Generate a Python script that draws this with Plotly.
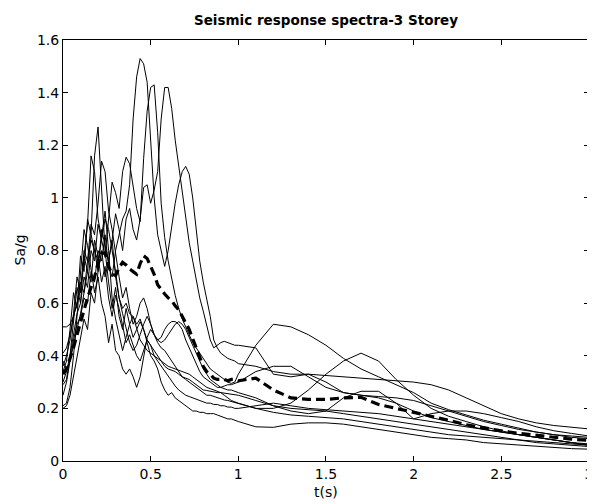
import plotly.graph_objects as go

# Period grid (s): 0.00..1.00 step 0.02, then 1.1..3.0 step 0.1
period_early = [round(i * 0.02, 2) for i in range(51)]
period_late = [round(1.0 + 0.1 * i, 1) for i in range(1, 21)]
period = period_early + period_late

rec1 = [0.25, 0.30, 0.38, 0.46, 0.52, 0.55, 0.62, 0.60, 0.72, 0.68, 0.80, 0.76, 0.86, 0.74, 0.70, 0.80, 0.86, 0.92, 0.95, 1.05,
        1.30, 1.46, 1.53, 1.51, 1.44, 1.24, 1.00, 0.86, 0.80, 0.74, 0.80, 0.90, 0.98, 1.05, 1.10, 1.12, 1.09, 1.00, 0.88, 0.76,
        0.68, 0.62, 0.55, 0.46, 0.43, 0.41, 0.40, 0.39, 0.385, 0.38, 0.37,
        0.36, 0.34, 0.33, 0.33, 0.325, 0.32, 0.315, 0.31, 0.305, 0.30, 0.29, 0.27, 0.24, 0.21, 0.18, 0.16, 0.145, 0.135, 0.128, 0.122]
rec2 = [0.30, 0.34, 0.40, 0.48, 0.56, 0.60, 0.70, 0.66, 0.80, 0.76, 0.90, 0.84, 0.78, 0.92, 1.06, 1.02, 0.96, 1.10, 1.155, 1.13,
        1.05, 0.96, 0.91, 1.15, 1.33, 1.42, 1.43, 1.25, 0.98, 0.85, 0.76, 0.69, 0.63, 0.58, 0.54, 0.51, 0.48, 0.45, 0.43, 0.41,
        0.39, 0.37, 0.35, 0.34, 0.33, 0.32, 0.31, 0.30, 0.295, 0.30, 0.33,
        0.44, 0.52, 0.51, 0.48, 0.44, 0.39, 0.35, 0.32, 0.29, 0.26, 0.22, 0.195, 0.175, 0.155, 0.14, 0.125, 0.11, 0.10, 0.09, 0.085]
rec3 = [0.41, 0.43, 0.48, 0.55, 0.60, 0.65, 0.78, 0.72, 0.86, 0.80, 0.72, 0.88, 0.82, 0.76, 0.84, 0.94, 0.88, 0.80, 0.92, 0.96,
        0.88, 0.84, 0.92, 1.04, 1.05, 0.98, 1.03, 1.10, 1.30, 1.42, 1.42, 1.34, 1.22, 1.12, 1.02, 0.92, 0.83, 0.76, 0.69, 0.62,
        0.57, 0.52, 0.46, 0.43, 0.44, 0.45, 0.455, 0.45, 0.445, 0.44, 0.44,
        0.43, 0.33, 0.32, 0.33, 0.30, 0.26, 0.25, 0.24, 0.22, 0.19, 0.165, 0.15, 0.135, 0.12, 0.11, 0.10, 0.09, 0.08, 0.07, 0.065]
rec4 = [0.34, 0.38, 0.50, 0.64, 0.58, 0.78, 0.72, 0.92, 0.86, 1.16, 1.27, 1.05, 0.80, 0.68, 0.58, 0.66, 0.55, 0.50, 0.58, 0.52,
        0.47, 0.50, 0.53, 0.50, 0.46, 0.44, 0.42, 0.40, 0.38, 0.36, 0.35, 0.345, 0.34, 0.33, 0.32, 0.315, 0.31, 0.30, 0.29, 0.28,
        0.27, 0.268, 0.265, 0.263, 0.26, 0.26, 0.258, 0.256, 0.254, 0.252, 0.25,
        0.23, 0.21, 0.20, 0.195, 0.19, 0.18, 0.17, 0.16, 0.15, 0.14, 0.13, 0.12, 0.11, 0.10, 0.09, 0.08, 0.07, 0.065, 0.06, 0.055]
rec5 = [0.29, 0.31, 0.40, 0.52, 0.66, 0.60, 0.78, 0.90, 1.16, 1.10, 0.92, 0.85, 0.95, 0.80, 0.62, 0.54, 0.48, 0.42, 0.47, 0.52,
        0.55, 0.52, 0.54, 0.50, 0.45, 0.40, 0.38, 0.35, 0.30, 0.27, 0.25, 0.26, 0.24, 0.23, 0.22, 0.21, 0.20, 0.19, 0.19, 0.185,
        0.185, 0.18, 0.18, 0.18, 0.175, 0.17, 0.165, 0.16, 0.16, 0.155, 0.15,
        0.13, 0.128, 0.14, 0.145, 0.145, 0.14, 0.13, 0.12, 0.11, 0.10, 0.09, 0.085, 0.08, 0.07, 0.065, 0.06, 0.055, 0.05, 0.047, 0.045]
rec6 = [0.36, 0.40, 0.46, 0.56, 0.70, 0.64, 0.80, 0.76, 0.90, 0.86, 0.98, 1.14, 1.10, 0.95, 0.88, 0.78, 0.70, 0.62, 0.66, 0.58,
        0.52, 0.55, 0.60, 0.62, 0.58, 0.52, 0.48, 0.46, 0.47, 0.50, 0.52, 0.53, 0.53, 0.52, 0.50, 0.46, 0.43, 0.40, 0.37, 0.34,
        0.32, 0.31, 0.30, 0.29, 0.28, 0.28, 0.275, 0.27, 0.27, 0.265, 0.26,
        0.24, 0.21, 0.19, 0.18, 0.19, 0.24, 0.265, 0.265, 0.22, 0.16, 0.18, 0.19, 0.19, 0.18, 0.165, 0.15, 0.13, 0.115, 0.105, 0.095]
rec7 = [0.21, 0.22, 0.28, 0.40, 0.55, 0.70, 0.88, 0.82, 0.72, 0.64, 0.70, 0.60, 0.55, 0.45, 0.52, 0.42, 0.40, 0.35, 0.33, 0.35,
        0.32, 0.28, 0.32, 0.40, 0.47, 0.50, 0.48, 0.45, 0.43, 0.42, 0.40, 0.38, 0.36, 0.34, 0.32, 0.31, 0.30, 0.29, 0.28, 0.27,
        0.26, 0.25, 0.25, 0.245, 0.24, 0.235, 0.232, 0.23, 0.226, 0.223, 0.22,
        0.20, 0.185, 0.175, 0.17, 0.165, 0.16, 0.15, 0.14, 0.13, 0.12, 0.11, 0.10, 0.095, 0.09, 0.085, 0.08, 0.075, 0.07, 0.065, 0.06]
rec8 = [0.51, 0.51, 0.52, 0.55, 0.60, 0.68, 0.64, 0.76, 0.84, 0.80, 0.76, 0.84, 0.92, 0.88, 0.80, 0.72, 0.62, 0.58, 0.60, 0.56,
        0.55, 0.50, 0.46, 0.44, 0.42, 0.41, 0.40, 0.39, 0.38, 0.37, 0.36, 0.355, 0.35, 0.345, 0.34, 0.335, 0.33, 0.32, 0.31, 0.30,
        0.29, 0.28, 0.275, 0.27, 0.265, 0.26, 0.25, 0.24, 0.23, 0.225, 0.22,
        0.20, 0.20, 0.22, 0.27, 0.33, 0.38, 0.41, 0.38, 0.31, 0.25, 0.20, 0.17, 0.15, 0.13, 0.115, 0.10, 0.09, 0.08, 0.07, 0.06]
rec9 = [0.38, 0.35, 0.38, 0.44, 0.50, 0.56, 0.64, 0.72, 0.68, 0.84, 0.78, 0.68, 0.74, 0.62, 0.55, 0.63, 0.58, 0.52, 0.45, 0.48,
        0.44, 0.40, 0.38, 0.42, 0.46, 0.44, 0.40, 0.38, 0.36, 0.34, 0.32, 0.30, 0.285, 0.27, 0.26, 0.25, 0.245, 0.24, 0.235, 0.23,
        0.225, 0.22, 0.22, 0.215, 0.215, 0.21, 0.21, 0.205, 0.205, 0.20, 0.20,
        0.21, 0.22, 0.21, 0.20, 0.195, 0.19, 0.185, 0.18, 0.17, 0.16, 0.15, 0.14, 0.13, 0.12, 0.11, 0.10, 0.09, 0.08, 0.07, 0.06]
rec10 = [0.20, 0.21, 0.25, 0.32, 0.40, 0.46, 0.54, 0.50, 0.64, 0.60, 0.72, 0.80, 0.70, 0.76, 0.84, 0.70, 0.62, 0.56, 0.50, 0.45,
         0.42, 0.44, 0.48, 0.52, 0.55, 0.52, 0.48, 0.46, 0.45, 0.46, 0.48, 0.50, 0.52, 0.53, 0.52, 0.50, 0.47, 0.44, 0.41, 0.38,
         0.35, 0.33, 0.31, 0.30, 0.29, 0.28, 0.285, 0.29, 0.29, 0.295, 0.30,
         0.34, 0.36, 0.36, 0.32, 0.28, 0.26, 0.25, 0.245, 0.24, 0.23, 0.21, 0.19, 0.17, 0.15, 0.135, 0.12, 0.11, 0.10, 0.095, 0.09]

mean_spectrum = [0.33, 0.35, 0.39, 0.43, 0.48, 0.53, 0.58, 0.62, 0.66, 0.70, 0.75, 0.79, 0.79, 0.74, 0.71, 0.705, 0.735, 0.755, 0.745, 0.73,
                 0.72, 0.71, 0.75, 0.78, 0.77, 0.74, 0.71, 0.67, 0.65, 0.635, 0.62, 0.61, 0.59, 0.575, 0.55, 0.525, 0.50, 0.465, 0.43, 0.39,
                 0.36, 0.34, 0.33, 0.315, 0.31, 0.31, 0.31, 0.305, 0.31, 0.31, 0.305,
                 0.315, 0.27, 0.24, 0.234, 0.234, 0.24, 0.242, 0.215, 0.20, 0.186, 0.17, 0.155, 0.138, 0.125, 0.115, 0.105, 0.097, 0.09, 0.083, 0.078]

records = [rec1, rec2, rec3, rec4, rec5, rec6, rec7, rec8, rec9, rec10]

x_ticks = [0, 0.5, 1, 1.5, 2, 2.5, 3]
x_tick_text = ["0", "0.5", "1", "1.5", "2", "2.5", "3"]
y_ticks = [0, 0.2, 0.4, 0.6, 0.8, 1.0, 1.2, 1.4, 1.6]
y_tick_text = ["0", "0.2", "0.4", "0.6", "0.8", "1", "1.2", "1.4", "1.6"]

title_text = "Seismic response spectra-3 Storey"
x_title = "t(s)"
y_title = "Sa/g"

fig = go.Figure()
for i, rec in enumerate(records):
    fig.add_trace(go.Scatter(x=period, y=rec, mode="lines",
                             line=dict(color="black", width=1),
                             name=f"Record {i+1}", showlegend=False))
fig.add_trace(go.Scatter(x=period, y=mean_spectrum, mode="lines",
                         line=dict(color="black", width=3.2, dash="9px,5px"),
                         name="Mean", showlegend=False))

# page body has an 8px default margin, so the figure is offset by 8px
W, H = 587, 496
L, R, T, B = 55, 6, 32, 43
PH = H - T - B
font_family = "DejaVu Sans, Liberation Sans, Arial, sans-serif"
fig.update_layout(
    width=W, height=H,
    margin=dict(l=L, r=R, t=T, b=B),
    paper_bgcolor="white", plot_bgcolor="white",
    font=dict(family=font_family, size=14, color="black"),
    title=dict(text=f"<b>{title_text}</b>", x=(326 - 8) / W, xanchor="center",
               y=1 - 12.5 / H, yanchor="middle", yref="container",
               font=dict(family=font_family, size=13.5, color="black")),
    annotations=[
        dict(text=x_title, xref="paper", yref="paper", x=0.5, y=-(492 - 461) / PH,
             xanchor="center", yanchor="middle", showarrow=False,
             font=dict(family=font_family, size=14, color="black")),
        dict(text=y_title, xref="paper", yref="paper", x=-(63 - 19) / (W - L - R), y=0.5,
             xanchor="center", yanchor="middle", textangle=-90, showarrow=False,
             font=dict(family=font_family, size=14, color="black")),
    ],
)
fig.update_xaxes(range=[0, 3.0005], tickvals=x_ticks, ticktext=x_tick_text, automargin=False,
                 showline=True, linecolor="black", linewidth=1, mirror="ticks",
                 ticks="inside", ticklen=5, tickcolor="black", showgrid=False, zeroline=False,
                 tickfont=dict(size=14))
fig.update_yaxes(range=[0, 1.6005], tickvals=y_ticks, ticktext=y_tick_text, automargin=False,
                 showline=True, linecolor="black", linewidth=1, mirror="ticks",
                 ticks="inside", ticklen=5, tickcolor="black", showgrid=False, zeroline=False,
                 tickfont=dict(size=14))

fig.write_html("out.html")
